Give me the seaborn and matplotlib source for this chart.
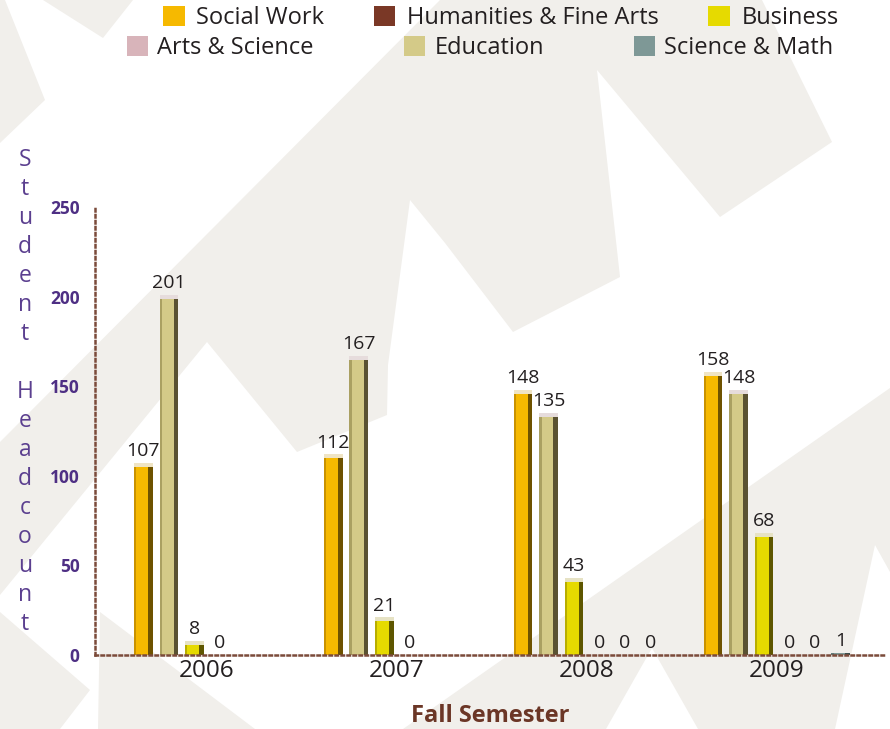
import matplotlib
matplotlib.use("Agg")
import matplotlib.pyplot as plt
from matplotlib.patches import Polygon, Rectangle, Patch
import seaborn as sns
import pandas as pd
import numpy as np

# ---------------- data ----------------
years = ["2006", "2007", "2008", "2009"]
series_order = ["Social Work", "Education", "Business",
                "Arts & Science", "Humanities & Fine Arts", "Science & Math"]
social_work = [107, 112, 148, 158]
education = [201, 167, 135, 148]
business = [8, 21, 43, 68]
arts_science = [0, 0, 0, 0]
humanities = [None, None, 0, 0]
science_math = [None, None, 0, 1]
yticks = [0, 50, 100, 150, 200, 250]

values = {
    "Social Work": social_work,
    "Education": education,
    "Business": business,
    "Arts & Science": arts_science,
    "Humanities & Fine Arts": humanities,
    "Science & Math": science_math,
}

rows = []
for s in series_order:
    for y, v in zip(years, values[s]):
        if v is not None:
            rows.append({"year": y, "series": s, "value": v})
df = pd.DataFrame(rows)

# ---------------- styles ----------------
main_c = {
    "Social Work": "#f6b900",
    "Education": "#d4ca88",
    "Business": "#e6da00",
    "Arts & Science": "#d8b4ba",
    "Humanities & Fine Arts": "#7a3826",
    "Science & Math": "#7e9896",
}
dark_c = {
    "Social Work": "#6e5200",
    "Education": "#5a5232",
    "Business": "#5e5600",
    "Arts & Science": "#5a5000",
    "Humanities & Fine Arts": "#2a1208",
    "Science & Math": "#3c4e4c",
}
mid_c = {
    "Social Work": "#c99200",
    "Education": "#aaa062",
    "Business": "#b8ad00",
    "Arts & Science": "#b08e94",
    "Humanities & Fine Arts": "#5a2818",
    "Science & Math": "#627a78",
}
cap_c = {
    "Social Work": "#efe4c4",
    "Education": "#e6dcdc",
    "Business": "#e6e2c4",
    "Arts & Science": "#eee0e0",
    "Humanities & Fine Arts": "#c09080",
    "Science & Math": "#d8e2cc",
}

sns.set_theme(style="white")
plt.rcParams["font.family"] = ["Open Sans", "DejaVu Sans"]

W, H = 890, 729
fig = plt.figure(figsize=(W / 100, H / 100), dpi=100)
fig.patch.set_facecolor("white")

# ---------------- background decoration ----------------
bg = "#f1efeb"
def fpoly(pts):
    p = Polygon([(x / W, 1 - y / H) for x, y in pts], closed=True,
                transform=fig.transFigure, facecolor=bg, edgecolor="none", zorder=0)
    fig.add_artist(p)

fpoly([(0, 0), (5, 0), (45, 100), (0, 143)])
fpoly([(43, 0), (103, 38), (133, 0)])
fpoly([(0, 442), (440, 0), (762, 0), (832, 142), (720, 217), (597, 70),
       (620, 277), (513, 332), (445, 243), (410, 200), (388, 365),
       (387, 415), (297, 452), (207, 342), (0, 595)])
fpoly([(403, 729), (890, 388), (890, 572), (875, 545), (835, 729),
       (698, 729), (652, 648), (606, 729)])
fpoly([(0, 612), (90, 690), (60, 729), (0, 729)])
fpoly([(100, 612), (255, 729), (98, 729)])

# ---------------- axes ----------------
ax = fig.add_axes([95 / W, 74 / H, 790 / W, 448 / H])
ax.set_facecolor("none")
ax.set_zorder(2)

sns.barplot(data=df, x="year", y="value", hue="series", hue_order=series_order,
            order=years, palette=main_c, width=0.805, gap=0.27, dodge=True,
            saturation=1, errorbar=None, legend=False, ax=ax, linewidth=0)

ax.set_ylim(0, 250)
ax.set_xlim(-0.59, 3.57)

# 3D-ish shading on each bar, derived from the drawn bars
for cont, s in zip(ax.containers, series_order):
    for r in cont.patches:
        x0, w, h = r.get_x(), r.get_width(), r.get_height()
        if not np.isfinite(h) or h <= 0:
            continue
        ax.add_patch(Rectangle((x0, 0), w * 0.13, h, facecolor=mid_c[s],
                               edgecolor="none", zorder=r.get_zorder() + 0.1))
        ax.add_patch(Rectangle((x0 + w * 0.76, 0), w * 0.24, h, facecolor=dark_c[s],
                               edgecolor="none", zorder=r.get_zorder() + 0.1))
        if h > 5:
            ch = 2.3
            ax.add_patch(Rectangle((x0, h - ch), w, ch, facecolor=cap_c[s],
                                   edgecolor="none", zorder=r.get_zorder() + 0.2))
    ax.bar_label(cont, fmt="%d", padding=2, fontsize=14, color="#231f20")

# spines
for side in ["top", "right"]:
    ax.spines[side].set_visible(False)
for side in ["left", "bottom"]:
    ax.spines[side].set_visible(True)
    ax.spines[side].set_color("#7b4b3a")
    ax.spines[side].set_linewidth(1.8)
    ax.spines[side].set_linestyle((0, (1, 1.4)))

ax.set_yticks(yticks)
ax.set_yticklabels([str(t) for t in yticks], fontsize=12.5, fontweight="bold",
                   color="#4e2f84")
ax.tick_params(axis="y", length=0, pad=11)
ax.tick_params(axis="x", length=0, pad=3, labelsize=17.5, labelcolor="#231f20")
ax.set_xlabel("")
ax.set_ylabel("")
ax.grid(False)

# vertical stacked y label
label = "Student Headcount"
ypos = 160
for ch in label:
    if ch != " ":
        fig.text(25 / W, 1 - ypos / H, ch, ha="center", va="center",
                 fontsize=16.5, color="#5b3f8f")
    ypos += 29

fig.text(490 / W, 1 - 716 / H, "Fall Semester", ha="center", va="center",
         fontsize=17, fontweight="bold", color="#6b3626")

# legend (two rows)
def handles(names):
    return [Patch(facecolor=main_c[n], edgecolor=dark_c[n], linewidth=0) for n in names]

row1 = ["Social Work", "Humanities & Fine Arts", "Business"]
row2 = ["Arts & Science", "Education", "Science & Math"]
l1 = fig.legend(handles(row1), row1, ncol=3, loc="center",
                bbox_to_anchor=(501 / W, 1 - 18 / H), frameon=False, fontsize=17,
                handlelength=0.9, handleheight=0.95, handletextpad=0.5,
                columnspacing=2.1, labelcolor="#231f20", borderpad=0)
l2 = fig.legend(handles(row2), row2, ncol=3, loc="center",
                bbox_to_anchor=(480 / W, 1 - 48 / H), frameon=False, fontsize=17,
                handlelength=0.9, handleheight=0.95, handletextpad=0.4,
                columnspacing=3.8, labelcolor="#231f20", borderpad=0)

fig.savefig("out.png", dpi=100)
